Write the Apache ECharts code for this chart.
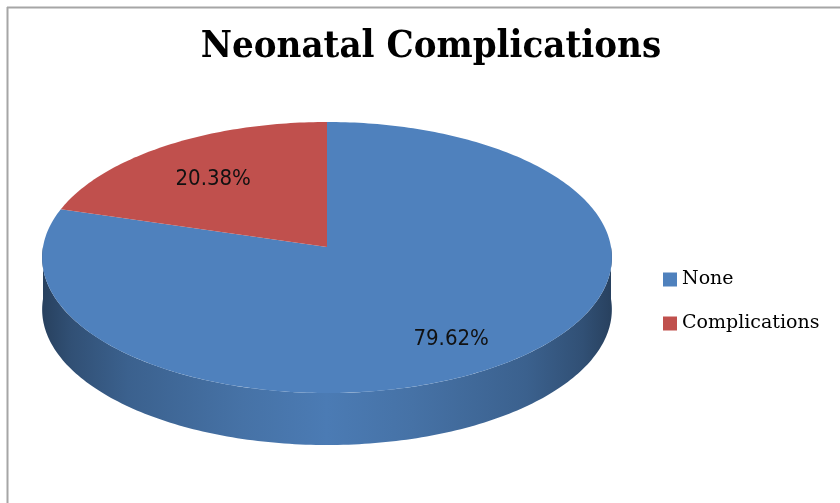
<!DOCTYPE html>
<html>
<head>
<meta charset="utf-8">
<script src="https://cdn.jsdelivr.net/npm/echarts@6/dist/echarts.min.js"></script>
<style>
  html, body { margin: 0; padding: 0; background: #ffffff; }
  #chart { width: 840px; height: 503px; }
</style>
</head>
<body>
<div id="chart"></div>
<script>
// Shares of newborns by outcome (percent)
const categories = ['None', 'Complications'];
const percentages = [79.62, 20.38];
const sliceColors = ['#4f81bd', '#c0504d'];

// Tilted-disc geometry for the 3D pie
const disc = { cx: 327, cy: 247, rx: 284, ry: 134.7, k: 0.0775, depth: 52, labelR: 0.7 };

function shade(hex, f) {
  const n = parseInt(hex.slice(1), 16);
  const r = Math.round(((n >> 16) & 255) * f);
  const g = Math.round(((n >> 8) & 255) * f);
  const b = Math.round((n & 255) * f);
  return 'rgb(' + r + ',' + g + ',' + b + ')';
}

// Project a point on the disc (fraction of radius, angle in degrees) to the screen
function project(f, deg, drop) {
  const t = deg * Math.PI / 180;
  const s = Math.sin(t), c = Math.cos(t);
  const d = 1 + disc.k * f * s;
  return [disc.cx + disc.rx * f * c / d, disc.cy - disc.ry * f * s / d + (drop || 0)];
}

function arcPoints(from, to, drop) {
  const pts = [];
  const steps = Math.max(2, Math.ceil(Math.abs(to - from)));
  for (let i = 0; i <= steps; i++) {
    pts.push(project(1, from + (to - from) * i / steps, drop));
  }
  return pts;
}

function wallFill(color) {
  const f = [0.5, 0.62, 0.75, 0.88, 0.95, 0.88, 0.75, 0.62, 0.5];
  const o = [0, 0.05, 0.15, 0.35, 0.5, 0.65, 0.85, 0.95, 1];
  return {
    type: 'linear', global: true,
    x: disc.cx - disc.rx, y: 0, x2: disc.cx + disc.rx, y2: 0,
    colorStops: o.map((off, i) => ({ offset: off, color: shade(color, f[i]) }))
  };
}

function renderSlice(params, api) {
  const start = api.value(0);
  const span = api.value(1);
  const color = api.visual('color');
  // clockwise from 12 o'clock
  const t0 = 90 - start * 3.6;
  const t1 = 90 - (start + span) * 3.6;
  const children = [];

  // outer wall: only the front half of the rim (angles in (-180, 0)) is visible
  [-720, -360, 0, 360].forEach(shift => {
    const lo = Math.max(t1, -180 + shift);
    const hi = Math.min(t0, 0 + shift);
    if (lo < hi) {
      const upper = arcPoints(hi, lo, 0);
      const lower = arcPoints(lo, hi, disc.depth);
      children.push({
        type: 'polygon',
        shape: { points: upper.concat(lower) },
        style: { fill: wallFill(color), stroke: null }
      });
    }
  });

  // top face
  const top = [project(0, 0, 0)].concat(arcPoints(t0, t1, 0));
  children.push({
    type: 'polygon',
    shape: { points: top },
    style: { fill: color, stroke: null }
  });

  // percentage label, nudged toward the viewer on the near side of the disc
  const mid = (t0 + t1) / 2;
  const p = project(disc.labelR, mid, 0);
  const nearSide = Math.max(0, -Math.sin(mid * Math.PI / 180));
  children.push({
    type: 'text',
    x: p[0], y: p[1] + 5 + nearSide * disc.depth * 0.2,
    style: {
      text: span.toFixed(2) + '%',
      fill: '#111111',
      font: '22px "DejaVu Sans Condensed", "DejaVu Sans", sans-serif',
      align: 'center',
      verticalAlign: 'middle'
    }
  });
  return { type: 'group', children: children };
}

let cumulative = 0;
const series = categories.map((name, i) => {
  const item = [cumulative, percentages[i]];
  cumulative += percentages[i];
  return {
    type: 'custom',
    name: name,
    coordinateSystem: 'none',
    itemStyle: { color: sliceColors[i] },
    renderItem: renderSlice,
    data: [item],
    silent: true,
    animation: false
  };
});

const chart = echarts.init(document.getElementById('chart'), null, { renderer: 'canvas' });
chart.setOption({
  backgroundColor: '#ffffff',
  animation: false,
  title: {
    text: 'Neonatal Complications',
    left: 426,
    top: 23,
    textAlign: 'center',
    textStyle: {
      fontFamily: '"DejaVu Serif Condensed", "DejaVu Serif", serif',
      fontWeight: 'bold',
      fontSize: 38,
      color: '#000000'
    }
  },
  legend: {
    orient: 'vertical',
    left: 658,
    top: 265,
    icon: 'rect',
    itemWidth: 14,
    itemHeight: 14,
    itemGap: 25,
    data: categories,
    textStyle: {
      fontFamily: '"DejaVu Serif", serif',
      fontSize: 19,
      color: '#000000'
    }
  },
  graphic: [
    { type: 'line', silent: true, shape: { x1: 7, y1: 7.5, x2: 840, y2: 7.5 }, style: { stroke: '#a6a6a6', lineWidth: 2 } },
    { type: 'line', silent: true, shape: { x1: 7.5, y1: 7, x2: 7.5, y2: 503 }, style: { stroke: '#a6a6a6', lineWidth: 2 } }
  ],
  series: series
});
</script>
</body>
</html>
